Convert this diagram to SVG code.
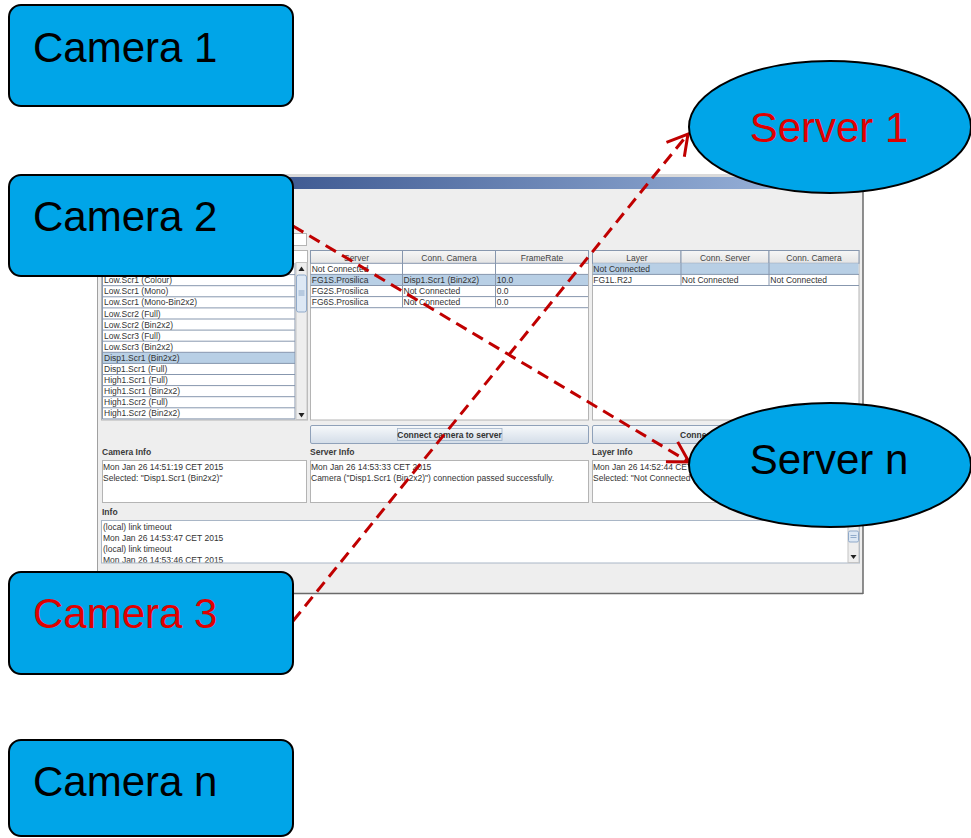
<svg xmlns="http://www.w3.org/2000/svg" width="971" height="838" viewBox="0 0 971 838">
<style>
.ui{font-family:"Liberation Sans",Arial,sans-serif;font-size:8.5px;fill:#333333}
.hd{font-family:"Liberation Sans",Arial,sans-serif;font-size:8.5px;fill:#444444;text-anchor:middle}
.lbl{font-family:"Liberation Sans",Arial,sans-serif;font-size:8.5px;font-weight:bold;fill:#3a3a3a}
.btxt{font-family:"Liberation Sans",Arial,sans-serif;font-size:8.5px;font-weight:bold;fill:#333333}
.grid{stroke:#8797ae;stroke-width:1;fill:none}
.box{fill:#ffffff;stroke:#b4b4b4;stroke-width:1}
.sel{fill:#b8cfe5}
.hdr{fill:url(#hdrg);stroke:#8797ae;stroke-width:1}
.btn{fill:url(#btng);stroke:#8fa1b9;stroke-width:1}
.node{fill:#00a5e8;stroke:#000000;stroke-width:2}
.big{font-family:"Liberation Sans",Arial,sans-serif;font-size:42px;fill:#000000}
.red{fill:#e00000}
.conn{fill:none;stroke:#c00000;stroke-width:3;stroke-dasharray:12 7}
</style>
<defs>
<linearGradient id="title" x1="0" y1="0" x2="1" y2="0">
<stop offset="0" stop-color="#1f3a78"/>
<stop offset="1" stop-color="#a4bee3"/>
</linearGradient>
<linearGradient id="hdrg" x1="0" y1="0" x2="0" y2="1">
<stop offset="0" stop-color="#f6f6f6"/>
<stop offset="1" stop-color="#e4e4e4"/>
</linearGradient>
<linearGradient id="btng" x1="0" y1="0" x2="0" y2="1">
<stop offset="0" stop-color="#f7f9fb"/>
<stop offset="1" stop-color="#d3dde8"/>
</linearGradient>
<clipPath id="infoclip"><rect x="102" y="521" width="746" height="41.5"/></clipPath>
<marker id="arr" markerUnits="userSpaceOnUse" orient="auto" refX="0" refY="0" markerWidth="30" markerHeight="30" overflow="visible">
<path d="M-20,-11.5 L0,0 L-20,11.5" fill="none" stroke="#c00000" stroke-width="3" stroke-dasharray="none"/>
</marker>
</defs>
<rect x="0" y="0" width="971" height="838" fill="#ffffff"/>

<g id="screenshot">
<rect x="97" y="174" width="766" height="3" fill="#dadada"/>
<rect x="97" y="177" width="766" height="12" fill="url(#title)"/>
<rect x="97" y="189" width="766" height="404" fill="#eeeeee"/>
<line x1="97.5" y1="174" x2="97.5" y2="593" stroke="#a0a0a0"/>
<line x1="863" y1="174" x2="863" y2="594" stroke="#6a6a6a" stroke-width="1.5"/>
<line x1="97" y1="593.5" x2="863" y2="593.5" stroke="#6a6a6a" stroke-width="1.5"/>
<rect x="102.5" y="233.5" width="204" height="12" class="box"/>

<!-- camera list -->
<rect x="101.5" y="250.5" width="206" height="169.5" class="box"/>
<rect x="102" y="352.3" width="193" height="11.1" class="sel"/>
<g class="grid">
<path d="M102.5,274.6 H295 M102.5,285.7 H295 M102.5,296.8 H295 M102.5,307.9 H295 M102.5,319 H295 M102.5,330.1 H295 M102.5,341.2 H295 M102.5,352.3 H295 M102.5,363.4 H295 M102.5,374.5 H295 M102.5,385.6 H295 M102.5,396.7 H295 M102.5,407.8 H295 M102.5,418.9 H295 M102.5,263 V419 M295,263 V419"/>
</g>
<g class="ui">
<text x="104" y="283.2">Low.Scr1 (Colour)</text>
<text x="104" y="294.3">Low.Scr1 (Mono)</text>
<text x="104" y="305.4">Low.Scr1 (Mono-Bin2x2)</text>
<text x="104" y="316.5">Low.Scr2 (Full)</text>
<text x="104" y="327.6">Low.Scr2 (Bin2x2)</text>
<text x="104" y="338.7">Low.Scr3 (Full)</text>
<text x="104" y="349.8">Low.Scr3 (Bin2x2)</text>
<text x="104" y="360.9">Disp1.Scr1 (Bin2x2)</text>
<text x="104" y="372">Disp1.Scr1 (Full)</text>
<text x="104" y="383.1">High1.Scr1 (Full)</text>
<text x="104" y="394.2">High1.Scr1 (Bin2x2)</text>
<text x="104" y="405.3">High1.Scr2 (Full)</text>
<text x="104" y="416.4">High1.Scr2 (Bin2x2)</text>
</g>
<rect x="296" y="262.5" width="11" height="157" fill="#eeeeee" stroke="#c4c4c4"/>
<path d="M298.5,271 L301.5,266.5 L304.5,271 Z" fill="#222"/>
<rect x="296.5" y="275" width="10" height="37" rx="2" fill="#dde8f4" stroke="#8fa9c9"/>
<path d="M298.5,291 H304.5 M298.5,293 H304.5 M298.5,295 H304.5" stroke="#7f9cc0" stroke-width="0.8"/>
<path d="M298.5,413 L301.5,417.5 L304.5,413 Z" fill="#222"/>

<!-- server table -->
<rect x="310.5" y="250.5" width="278" height="169.5" class="box"/>
<rect x="310.5" y="250.5" width="92" height="12.8" class="hdr"/>
<rect x="402.5" y="250.5" width="93" height="12.8" class="hdr"/>
<rect x="495.5" y="250.5" width="93" height="12.8" class="hdr"/>
<text class="hd" x="356.5" y="260.5">Server</text>
<text class="hd" x="449" y="260.5">Conn. Camera</text>
<text class="hd" x="542" y="260.5">FrameRate</text>
<rect x="311" y="274.4" width="277" height="11.1" class="sel"/>
<path class="grid" d="M310.5,274.4 H588 M310.5,285.5 H588 M310.5,296.6 H588 M310.5,307.7 H588 M402.5,263.3 V307.7 M495.5,263.3 V307.7"/>
<g class="ui">
<text x="311.7" y="271.8">Not Connected</text>
<text x="311.7" y="282.9">FG1S.Prosilica</text>
<text x="403.5" y="282.9">Disp1.Scr1 (Bin2x2)</text>
<text x="496.7" y="282.9">10.0</text>
<text x="311.7" y="294">FG2S.Prosilica</text>
<text x="403.5" y="294">Not Connected</text>
<text x="496.7" y="294">0.0</text>
<text x="311.7" y="305.1">FG6S.Prosilica</text>
<text x="403.5" y="305.1">Not Connected</text>
<text x="496.7" y="305.1">0.0</text>
</g>

<!-- layer table -->
<rect x="592.5" y="250.5" width="266.5" height="169.5" class="box"/>
<rect x="592.5" y="250.5" width="88.5" height="12.8" class="hdr"/>
<rect x="681" y="250.5" width="88" height="12.8" class="hdr"/>
<rect x="769" y="250.5" width="90" height="12.8" class="hdr"/>
<text class="hd" x="637" y="260.5">Layer</text>
<text class="hd" x="725" y="260.5">Conn. Server</text>
<text class="hd" x="814" y="260.5">Conn. Camera</text>
<rect x="593" y="263.3" width="265.5" height="11.1" class="sel"/>
<path class="grid" d="M592.5,274.4 H859 M592.5,285.5 H859 M681,263.3 V285.5 M769,263.3 V285.5"/>
<g class="ui">
<text x="593.3" y="271.8">Not Connected</text>
<text x="593.3" y="282.9">FG1L.R2J</text>
<text x="681.8" y="282.9">Not Connected</text>
<text x="770.3" y="282.9">Not Connected</text>
</g>

<!-- buttons -->
<rect x="310.5" y="425.5" width="278" height="18" rx="1.5" class="btn"/>
<rect x="397.5" y="428.5" width="104.5" height="12" fill="none" stroke="#9fb1c8" stroke-width="0.8"/>
<text class="btxt" x="449.5" y="437.7" text-anchor="middle">Connect camera to server</text>
<rect x="592.5" y="425.5" width="266.5" height="18" rx="1.5" class="btn"/>
<text class="btxt" x="680" y="437.7">Connect</text>

<!-- info panels -->
<text class="lbl" x="102" y="455">Camera Info</text>
<text class="lbl" x="310" y="455">Server Info</text>
<text class="lbl" x="592" y="455">Layer Info</text>
<rect x="102.5" y="460.5" width="204" height="42" class="box"/>
<rect x="310.5" y="460.5" width="278" height="42" class="box"/>
<rect x="592.5" y="460.5" width="266.5" height="42" class="box"/>
<g class="ui">
<text x="103" y="469.5">Mon Jan 26 14:51:19 CET 2015</text>
<text x="103" y="480.5">Selected: "Disp1.Scr1 (Bin2x2)"</text>
<text x="311" y="469.5">Mon Jan 26 14:53:33 CET 2015</text>
<text x="311" y="480.5">Camera ("Disp1.Scr1 (Bin2x2)") connection passed successfully.</text>
<text x="593" y="469.5">Mon Jan 26 14:52:44 CET 2015</text>
<text x="593" y="480.5">Selected: "Not Connected"</text>
</g>
<text class="lbl" x="102" y="515">Info</text>
<rect x="101.5" y="520.5" width="758" height="42.5" fill="#ffffff" stroke="#a9b6c6"/>
<g class="ui" clip-path="url(#infoclip)">
<text x="103" y="530">(local) link timeout</text>
<text x="103" y="541">Mon Jan 26 14:53:47 CET 2015</text>
<text x="103" y="552">(local) link timeout</text>
<text x="103" y="563">Mon Jan 26 14:53:46 CET 2015</text>
</g>
<rect x="848" y="521" width="11" height="41.5" fill="#eeeeee" stroke="#c4c4c4"/>
<rect x="848.5" y="531" width="10" height="11" rx="1.5" fill="#dde8f4" stroke="#8fa9c9"/>
<path d="M850.5,535.5 H856.5 M850.5,537.5 H856.5" stroke="#7f9cc0" stroke-width="0.8"/>
<path d="M850.5,555 L853.5,559 L856.5,555 Z" fill="#222"/>
</g>

<g id="connectors">
<path class="conn" d="M293,226 L689,462" marker-end="url(#arr)"/>
<path class="conn" d="M293,621 L688,134" marker-end="url(#arr)"/>
</g>

<g id="camera1"><rect class="node" x="9" y="5" width="284" height="101" rx="12"/><text class="big" x="33" y="62">Camera 1</text></g>
<g id="camera2"><rect class="node" x="9" y="175" width="284" height="101" rx="12"/><text class="big" x="33" y="231">Camera 2</text></g>
<g id="camera3"><rect class="node" x="9" y="572" width="284" height="102" rx="12"/><text class="big red" x="33" y="628">Camera 3</text></g>
<g id="cameran"><rect class="node" x="9" y="740" width="284" height="96" rx="12"/><text class="big" x="33" y="796">Camera n</text></g>
<g id="server1"><ellipse class="node" cx="830" cy="127" rx="141" ry="66"/><text class="big red" x="829" y="142" text-anchor="middle">Server 1</text></g>
<g id="servern"><ellipse class="node" cx="830" cy="465" rx="141" ry="62"/><text class="big" x="829" y="474" text-anchor="middle">Server n</text></g>
</svg>
